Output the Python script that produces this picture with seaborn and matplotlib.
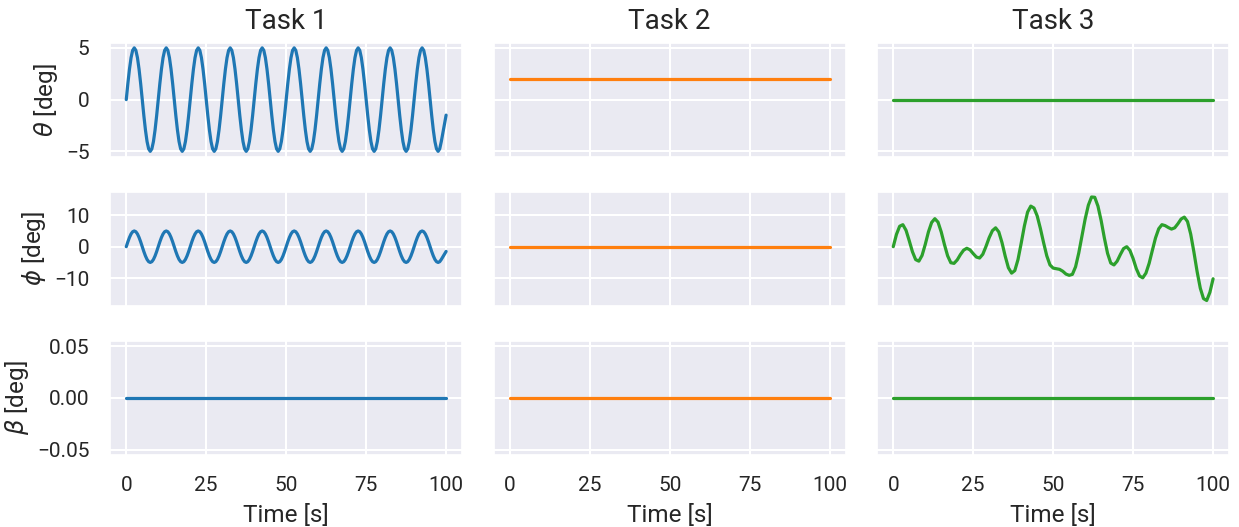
import numpy as np
import matplotlib
matplotlib.use("Agg")
import matplotlib.pyplot as plt
import seaborn as sns

# values
tasks = ["Task 1", "Task 2", "Task 3"]
ylabels = [r"$\theta$ [deg]", r"$\phi$ [deg]", r"$\beta$ [deg]"]

# Task 1 traces, sampled every 0.5 s
time_t1 = np.linspace(0, 100, 201)
theta_task1 = [
    0, 1.55, 2.94, 4.05, 4.76, 5, 4.76, 4.05, 2.94, 1.55, 0, -1.55, -2.94, -4.05, -4.76, -5, -4.76, -4.05, -2.94, -1.55,
    0, 1.55, 2.94, 4.05, 4.76, 5, 4.76, 4.05, 2.94, 1.55, 0, -1.55, -2.94, -4.05, -4.76, -5, -4.76, -4.05, -2.94, -1.55,
    0, 1.55, 2.94, 4.05, 4.76, 5, 4.76, 4.05, 2.94, 1.55, 0, -1.55, -2.94, -4.05, -4.76, -5, -4.76, -4.05, -2.94, -1.55,
    0, 1.55, 2.94, 4.05, 4.76, 5, 4.76, 4.05, 2.94, 1.55, 0, -1.55, -2.94, -4.05, -4.76, -5, -4.76, -4.05, -2.94, -1.55,
    0, 1.55, 2.94, 4.05, 4.76, 5, 4.76, 4.05, 2.94, 1.55, 0, -1.55, -2.94, -4.05, -4.76, -5, -4.76, -4.05, -2.94, -1.55,
    0, 1.55, 2.94, 4.05, 4.76, 5, 4.76, 4.05, 2.94, 1.55, 0, -1.55, -2.94, -4.05, -4.76, -5, -4.76, -4.05, -2.94, -1.55,
    0, 1.55, 2.94, 4.05, 4.76, 5, 4.76, 4.05, 2.94, 1.55, 0, -1.55, -2.94, -4.05, -4.76, -5, -4.76, -4.05, -2.94, -1.55,
    0, 1.55, 2.94, 4.05, 4.76, 5, 4.76, 4.05, 2.94, 1.55, 0, -1.55, -2.94, -4.05, -4.76, -5, -4.76, -4.05, -2.94, -1.55,
    0, 1.55, 2.94, 4.05, 4.76, 5, 4.76, 4.05, 2.94, 1.55, 0, -1.55, -2.94, -4.05, -4.76, -5, -4.76, -4.05, -2.94, -1.55,
    0, 1.55, 2.94, 4.05, 4.76, 5, 4.76, 4.05, 2.94, 1.55, 0, -1.55, -2.94, -4.05, -4.76, -5, -4.76, -4.05, -3.2, -2.3,
    -1.5,
]
phi_task1 = list(theta_task1)

# Task 3 roll trace, sampled every 1 s
time_t3 = np.linspace(0, 100, 101)
phi_task3 = [
    0.0, 3.9, 6.5, 7.0, 5.2, 1.9, -1.6, -4.1, -4.6, -2.8,
    0.7, 4.7, 7.7, 8.9, 7.8, 4.7, 0.7, -2.9, -5.1, -5.3,
    -4.2, -2.5, -1.1, -0.5, -1.0, -2.2, -3.3, -3.6, -2.4, 0.1,
    2.9, 5.1, 6.0, 4.7, 1.3, -3.0, -6.7, -8.4, -7.6, -4.1,
    1.1, 6.6, 11.0, 12.9, 12.3, 9.8, 5.8, 1.3, -2.9, -5.8,
    -6.8, -7.0, -7.2, -7.8, -8.7, -9.1, -8.8, -6.4, -2.0, 3.4,
    8.8, 13.2, 15.8, 15.7, 12.9, 8.3, 2.8, -2.1, -5.2, -5.8,
    -4.6, -2.5, -0.6, 0.0, -1.2, -3.8, -7.0, -9.3, -9.9, -8.4,
    -5.3, -1.2, 2.8, 5.7, 7.0, 6.7, 6.1, 5.6, 6.0, 7.3,
    8.8, 9.4, 8.0, 4.0, -1.7, -7.9, -13.2, -16.5, -17.1, -14.5,
    -10.2,
]

# constant traces
time_flat = [0, 100]
theta_task2 = [2.0, 2.0]
theta_task3 = [0.0, 0.0]
phi_task2 = [0.0, 0.0]
beta_task1 = [0.0, 0.0]
beta_task2 = [0.0, 0.0]
beta_task3 = [0.0, 0.0]

sns.set_theme(style="darkgrid", rc={"grid.linewidth": 1.5})
plt.rcParams["font.family"] = ["Roboto", "DejaVu Sans"]
colors = sns.color_palette("tab10")

series = [
    [(time_t1, theta_task1), (time_flat, theta_task2), (time_flat, theta_task3)],
    [(time_t1, phi_task1), (time_flat, phi_task2), (time_t3, phi_task3)],
    [(time_flat, beta_task1), (time_flat, beta_task2), (time_flat, beta_task3)],
]

fig, axes = plt.subplots(3, 3, figsize=(12.39, 5.27), dpi=100,
                         sharex=True, sharey="row")
for r in range(3):
    for c in range(3):
        ax = axes[r, c]
        x, y = series[r][c]
        sns.lineplot(x=x, y=y, ax=ax, color=colors[c], linewidth=2.3)
        ax.tick_params(labelsize=15, pad=9)
        if r == 0:
            ax.set_title(tasks[c], fontsize=20, pad=10)
        if c == 0:
            ax.set_ylabel(ylabels[r], fontsize=17.5, labelpad=4.5)
        if r == 2:
            ax.set_xlabel("Time [s]", fontsize=17.5, labelpad=7)

axes[0, 0].set_yticks([-5, 0, 5])
axes[1, 0].set_yticks([-10, 0, 10])
axes[2, 0].set_yticks([-0.05, 0.0, 0.05])
axes[2, 0].set_xticks([0, 25, 50, 75, 100])

fig.subplots_adjust(left=0.089, right=0.992, top=0.919, bottom=0.137,
                    wspace=0.09, hspace=0.31)
fig.savefig("out.png", dpi=100)
